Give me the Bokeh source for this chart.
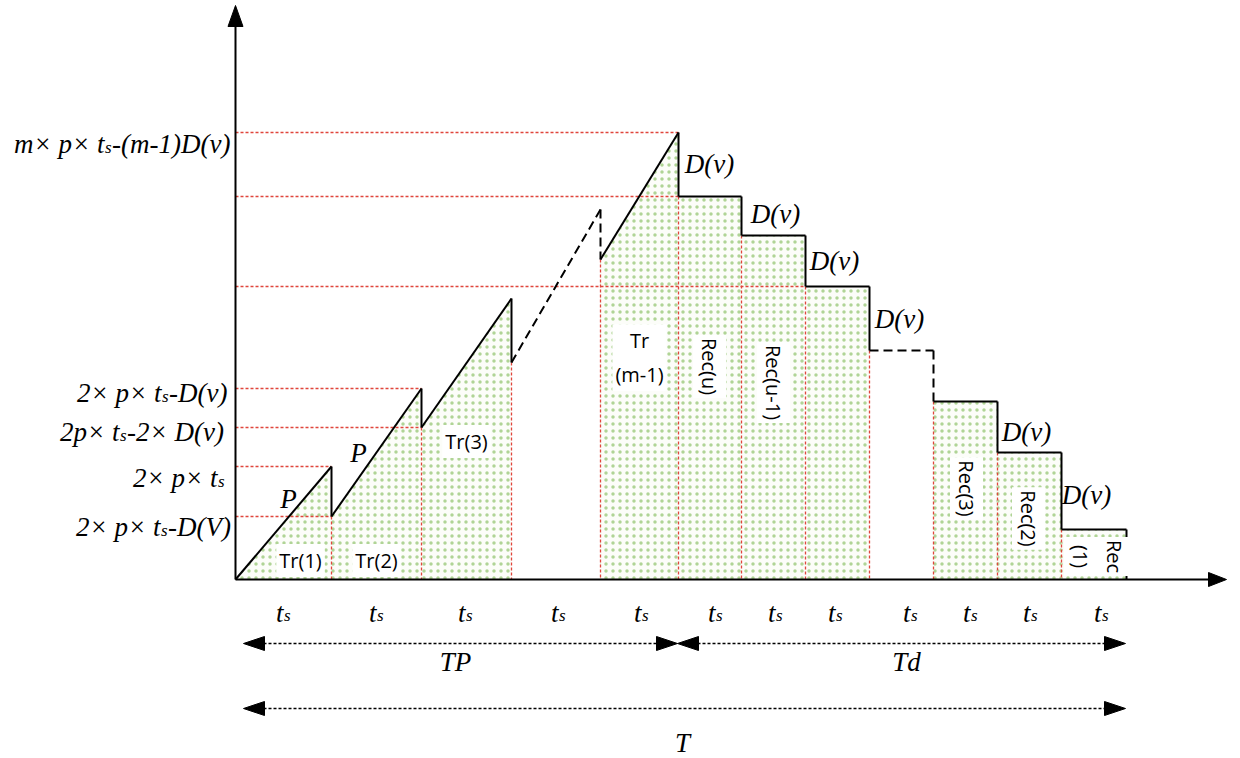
import math
from bokeh.plotting import figure
from bokeh.models import Range1d, Label
from bokeh.embed import file_html
from bokeh.resources import INLINE
from bokeh.core.properties import value

# ---------------- data (schematic, page-pixel coordinates) ----------------
axis_x = 235
axis_y = 579
slot_edges = [235, 331, 421, 511, 600, 678, 741, 805, 869, 933, 997, 1061, 1126]

# rising (transport) phase: level after each drop, level at the end of the slot
tooth_start_y = [579, 516, 427, 362, 259]
tooth_peak_y = [466, 388, 298, 209, 132]
tooth_dashed = [False, False, False, True, False]
tr_labels = ["Tr(1)", "Tr(2)", "Tr(3)", None, "Tr\n(m-1)"]
tr_label_x = [300, 376, 466, None, 639]
tr_label_y = [560, 560, 441, None, 357]

# decreasing (recovery) phase: level held during each slot
rec_levels = [196, 235, 286, 350, 401, 452, 529]
rec_dashed = [False, False, False, True, False, False, False]
rec_labels = ["Rec(u)", "Rec(u-1)", None, None, "Rec(3)", "Rec(2)", "Rec\n(1)"]
rec_label_x = [709, 773, None, None, 966, 1028, 1097]
rec_label_y = [366, 382, None, None, 488, 518, 556]

# y-axis level labels (split around the subscript s of t_s)
ylab_prefix = ["m\u00d7 p\u00d7 t", "2\u00d7 p\u00d7 t", "2p\u00d7 t", "2\u00d7 p\u00d7 t", "2\u00d7 p\u00d7 t"]
ylab_suffix = ["-(m-1)D(v)", "-D(v)", "-2\u00d7 D(v)", "", "-D(V)"]
ylab_split_x = [104, 161, 119, 217, 160]
ylab_base_y = [143, 392, 431, 477, 526]

# horizontal red guides: level, x where they end
hguide_y = [tooth_peak_y[4], rec_levels[0], rec_levels[2], tooth_peak_y[1],
            tooth_start_y[2], tooth_peak_y[0], tooth_start_y[1]]
hguide_x = [slot_edges[5], slot_edges[5], slot_edges[7], slot_edges[2],
            slot_edges[2], slot_edges[1], slot_edges[1]]

# t_s labels under each slot
ts_x = [283, 376, 465, 558, 641, 715, 775, 835, 910, 970, 1030, 1101]
ts_y = 612

dv_x = [709, 775, 834, 899, 1026, 1086]
dv_y = [163, 213, 260, 318, 431, 494]
p_x = [288, 358]
p_y = [498, 452]

# dimension arrows: (left tip, right tip, y)
dim_left = [243, 677, 243]
dim_right = [677, 1125, 1125]
dim_y = [643, 643, 708]
dim_text = ["TP", "Td", "T"]
dim_text_x = [455, 906, 682]
dim_text_y = [661, 661, 742]

SERIF = "Liberation Serif"
SANS = "Open Sans"
RED = "#e0463c"

# ---------------- figure ----------------
W, H = 1238, 756
p = figure(width=W, height=H, x_range=Range1d(0, W), y_range=Range1d(H, 0),
           x_axis_type=None, y_axis_type=None, toolbar_location=None,
           output_backend="svg", min_border=0)
p.grid.visible = False
p.outline_line_color = None
p.background_fill_color = "white"
p.border_fill_color = "white"

# ---- filled areas ----
fxs, fys = [], []
for k in range(5):
    if tooth_dashed[k]:
        continue
    x0, x1 = slot_edges[k], slot_edges[k + 1]
    fxs.append([x0, x0, x1, x1])
    fys.append([axis_y, tooth_start_y[k], tooth_peak_y[k], axis_y])
for j in range(7):
    if rec_dashed[j]:
        continue
    x0, x1 = slot_edges[5 + j], slot_edges[6 + j]
    fxs.append([x0, x0, x1, x1])
    fys.append([axis_y, rec_levels[j], rec_levels[j], axis_y])
p.patches(fxs, fys, fill_color="#fcfdf9", line_color=None,
          hatch_pattern="dot", hatch_color="#b0d496", hatch_scale=7, hatch_weight=1.9)

# ---- red guides ----
gx, gy = [], []
for yv, xe in zip(hguide_y, hguide_x):
    gx.append([axis_x, xe]); gy.append([yv, yv])
for i in range(1, 12):
    lvl = tooth_start_y[i] if i < 5 else rec_levels[i - 5]
    gx.append([slot_edges[i], slot_edges[i]]); gy.append([lvl, axis_y])
p.multi_line(gx, gy, line_color=RED, line_width=1.3, line_dash="3 2")

# ---- inventory curve ----
sx, sy, dx, dy = [], [], [], []
for k in range(5):
    x0, x1 = slot_edges[k], slot_edges[k + 1]
    nxt = tooth_start_y[k + 1] if k < 4 else rec_levels[0]
    segs = [([x0, x1], [tooth_start_y[k], tooth_peak_y[k]]), ([x1, x1], [tooth_peak_y[k], nxt])]
    for a, b in segs:
        (dx if tooth_dashed[k] else sx).append(a)
        (dy if tooth_dashed[k] else sy).append(b)
for j in range(7):
    x0, x1 = slot_edges[5 + j], slot_edges[6 + j]
    nxt = rec_levels[j + 1] if j < 6 else axis_y
    segs = [([x0, x1], [rec_levels[j], rec_levels[j]]), ([x1, x1], [rec_levels[j], nxt])]
    for a, b in segs:
        (dx if rec_dashed[j] else sx).append(a)
        (dy if rec_dashed[j] else sy).append(b)
p.multi_line(sx, sy, line_color="black", line_width=2)
p.multi_line(dx, dy, line_color="black", line_width=2, line_dash="9 5")

# ---- axes with arrow heads ----
p.multi_line([[axis_x, axis_x], [axis_x, 1208]], [[axis_y, 26], [axis_y, axis_y]],
             line_color="black", line_width=2)


def head(tx, ty, ux, uy, length, half):
    bx, by = tx - ux * length, ty - uy * length
    return [tx, bx - uy * half, bx + uy * half], [ty, by + ux * half, by - ux * half]


hx, hy = [], []
for tip in [(axis_x, 5, 0, -1, 21, 7.5), (1226, axis_y, 1, 0, 18, 7)]:
    a, b = head(*tip)
    hx.append(a); hy.append(b)

# ---- dimension arrows ----
dlx, dly = [], []
for xl, xr, yv in zip(dim_left, dim_right, dim_y):
    dlx.append([xl + 20, xr - 20]); dly.append([yv, yv])
    a, b = head(xl, yv, -1, 0, 21, 7); hx.append(a); hy.append(b)
    a, b = head(xr, yv, 1, 0, 21, 7); hx.append(a); hy.append(b)
p.multi_line(dlx, dly, line_color="black", line_width=1.6, line_dash="3 2")
p.patches(hx, hy, fill_color="black", line_color="black", line_width=1)

# ---- texts ----
serif = dict(text_font=value(SERIF), text_font_style="italic", text_color="black")
FS = "27px"
SUB = "17px"

# y-axis labels
p.text(x=ylab_split_x, y=ylab_base_y, text=ylab_prefix, text_font_size=FS,
       text_align="right", text_baseline="alphabetic", **serif)
p.text(x=[v + 0.5 for v in ylab_split_x], y=[v + 4 for v in ylab_base_y], text=["s"] * 5,
       text_font_size=SUB, text_align="left", text_baseline="alphabetic", **serif)
p.text(x=[v + 7.5 for v in ylab_split_x], y=ylab_base_y, text=ylab_suffix, text_font_size=FS,
       text_align="left", text_baseline="alphabetic", **serif)

# t_s under slots
p.text(x=ts_x, y=[ts_y] * len(ts_x), text=["t"] * len(ts_x), text_font_size=FS,
       text_align="right", text_baseline="alphabetic", **serif)
p.text(x=[v + 0.5 for v in ts_x], y=[ts_y + 3] * len(ts_x), text=["s"] * len(ts_x),
       text_font_size=SUB, text_align="left", text_baseline="alphabetic", **serif)

# D(v) and P
p.text(x=dv_x, y=dv_y, text=["D(v)"] * len(dv_x), text_font_size=FS,
       text_align="center", text_baseline="middle", **serif)
p.text(x=p_x, y=p_y, text=["P"] * len(p_x), text_font_size=FS,
       text_align="center", text_baseline="middle", **serif)

# dimension texts
p.text(x=dim_text_x, y=dim_text_y, text=dim_text, text_font_size=FS,
       text_align="center", text_baseline="middle", **serif)

# region labels (white boxes)
for t, x, y in zip(tr_labels, tr_label_x, tr_label_y):
    if t is None:
        continue
    p.add_layout(Label(x=x, y=y, text=t, text_font=SANS, text_font_size="20px",
                       text_color="black", text_align="center", text_baseline="middle",
                       text_line_height=1.25, background_fill_color="white", padding=3))
for t, x, y in zip(rec_labels, rec_label_x, rec_label_y):
    if t is None:
        continue
    p.add_layout(Label(x=x, y=y, text=t, text_font=SANS, text_font_size="20px",
                       text_color="black", text_align="center", text_baseline="middle",
                       text_line_height=1.25, angle=-math.pi / 2,
                       background_fill_color="white", padding=3))

open("out.html", "w").write(file_html(p, INLINE))
